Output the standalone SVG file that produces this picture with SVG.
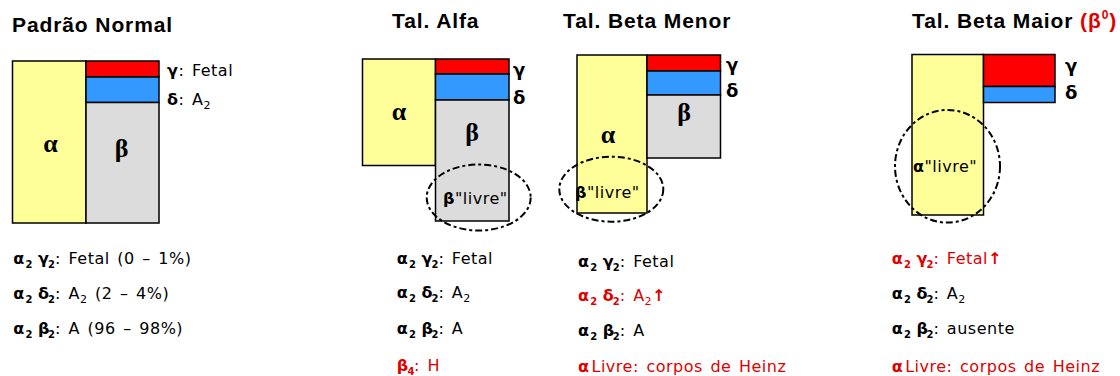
<svg xmlns="http://www.w3.org/2000/svg" width="1120" height="376" viewBox="0 0 1120 376">
<style>
.t{font-family:"Liberation Sans",Arial,sans-serif;font-weight:bold;font-size:21px;fill:#000;letter-spacing:0.9px}
.b{font-family:"DejaVu Sans",Verdana,sans-serif;font-size:16px;fill:#000;letter-spacing:0.5px;word-spacing:2px}
.g{font-family:"DejaVu Sans",sans-serif;font-weight:bold;font-size:16px}
.gl{font-family:"DejaVu Sans",sans-serif;font-weight:bold;font-size:18px}
.s{font-family:"DejaVu Sans",sans-serif;font-weight:bold;font-size:10px}
.sn{font-size:11px}
.big{font-family:"Liberation Serif",serif;font-weight:bold;font-size:26px;fill:#000;text-anchor:middle}
.red{fill:#e00000}
.y{fill:#ffff99;stroke:#000;stroke-width:1.5}
.r{fill:#ff0000;stroke:#000;stroke-width:1.5}
.bl{fill:#3399ff;stroke:#000;stroke-width:1.5}
.gr{fill:#dcdcdc;stroke:#000;stroke-width:1.5}
.el{fill:none;stroke:#000;stroke-width:2;stroke-dasharray:7 3 3 3}
.arr{font-family:"DejaVu Sans",sans-serif;font-weight:bold;font-size:16px}
</style>
<rect width="1120" height="376" fill="#fff"/>

<g id="padrao-normal">
<text class="t" x="12" y="32">Padrão Normal</text>
<rect class="y" x="12.5" y="61" width="73.5" height="162"/>
<rect class="r" x="86" y="61" width="73" height="16"/>
<rect class="bl" x="86" y="77" width="73" height="25.5"/>
<rect class="gr" x="86" y="102.5" width="73" height="120.5"/>
<text class="big" x="50.5" y="152">α</text>
<text class="big" x="121.5" y="157">β</text>
<text class="b" x="167" y="76"><tspan class="g">γ</tspan>: Fetal</text>
<text class="b" x="167" y="105"><tspan class="g">δ</tspan>: A<tspan class="sn" dy="4">2</tspan></text>
</g>

<g id="padrao-normal-legend">
<text class="b" y="264"><tspan class="g" x="13.3">α</tspan><tspan class="s" x="25.5" y="268">2</tspan><tspan class="g" x="38" y="264">γ</tspan><tspan class="s" x="48" y="268">2</tspan><tspan x="55" y="264">: Fetal (0 – 1%)</tspan></text>
<text class="b" y="299"><tspan class="g" x="13.3">α</tspan><tspan class="s" x="25.5" y="303">2</tspan><tspan class="g" x="38" y="299">δ</tspan><tspan class="s" x="48" y="303">2</tspan><tspan x="55" y="299">: A</tspan><tspan class="sn" dy="4">2</tspan><tspan dy="-4"> (2 – 4%)</tspan></text>
<text class="b" y="334"><tspan class="g" x="13.3">α</tspan><tspan class="s" x="25.5" y="338">2</tspan><tspan class="g" x="38" y="334">β</tspan><tspan class="s" x="48" y="338">2</tspan><tspan x="55" y="334">: A (96 – 98%)</tspan></text>
</g>

<g id="tal-alfa">
<text class="t" x="392" y="28">Tal. Alfa</text>
<rect class="y" x="362.5" y="59" width="73" height="106.5"/>
<rect class="r" x="435.5" y="59" width="73.5" height="15"/>
<rect class="bl" x="435.5" y="74" width="73.5" height="26"/>
<rect class="gr" x="435.5" y="100" width="73.5" height="121"/>
<text class="big" x="399" y="120">α</text>
<text class="big" x="472" y="141">β</text>
<text class="gl" x="513" y="76">γ</text>
<text class="gl" x="513" y="104">δ</text>
<ellipse class="el" cx="478.7" cy="197.5" rx="52" ry="33"/>
<text class="b" x="443" y="204" letter-spacing="0"><tspan class="g">β</tspan>"livre"</text>
</g>

<g id="tal-alfa-legend">
<text class="b" y="264"><tspan class="g" x="396.7">α</tspan><tspan class="s" x="408.9" y="268">2</tspan><tspan class="g" x="421.4" y="264">γ</tspan><tspan class="s" x="431.4" y="268">2</tspan><tspan x="438.4" y="264">: Fetal</tspan></text>
<text class="b" y="298"><tspan class="g" x="396.7">α</tspan><tspan class="s" x="408.9" y="302">2</tspan><tspan class="g" x="421.4" y="298">δ</tspan><tspan class="s" x="431.4" y="302">2</tspan><tspan x="438.4" y="298">: A</tspan><tspan class="sn" dy="4">2</tspan></text>
<text class="b" y="334"><tspan class="g" x="396.7">α</tspan><tspan class="s" x="408.9" y="338">2</tspan><tspan class="g" x="421.4" y="334">β</tspan><tspan class="s" x="431.4" y="338">2</tspan><tspan x="438.4" y="334">: A</tspan></text>
<text class="b red" y="371"><tspan class="g" x="396.7">β</tspan><tspan class="s" x="407.5" y="375">4</tspan><tspan x="414" y="371">: H</tspan></text>
</g>

<g id="tal-beta-menor">
<text class="t" x="563" y="28">Tal. Beta Menor</text>
<rect class="y" x="577" y="55" width="70" height="158"/>
<rect class="r" x="647" y="55" width="73.5" height="16"/>
<rect class="bl" x="647" y="71" width="73.5" height="24"/>
<rect class="gr" x="647" y="95" width="73.5" height="63"/>
<text class="big" x="608" y="143">α</text>
<text class="big" x="684" y="121">β</text>
<text class="gl" x="726" y="71">γ</text>
<text class="gl" x="726" y="97">δ</text>
<ellipse class="el" cx="611.3" cy="189.2" rx="52" ry="32.5"/>
<text class="b" x="575" y="198" letter-spacing="0.5"><tspan class="g">β</tspan>"livre"</text>
</g>

<g id="tal-beta-menor-legend">
<text class="b" y="267"><tspan class="g" x="578">α</tspan><tspan class="s" x="590.2" y="271">2</tspan><tspan class="g" x="602.7" y="267">γ</tspan><tspan class="s" x="612.7" y="271">2</tspan><tspan x="619.7" y="267">: Fetal</tspan></text>
<text class="b red" y="301"><tspan class="g" x="578">α</tspan><tspan class="s" x="590.2" y="305">2</tspan><tspan class="g" x="602.7" y="301">δ</tspan><tspan class="s" x="612.7" y="305">2</tspan><tspan x="619.7" y="301">: A</tspan><tspan class="sn" dy="4">2</tspan><tspan class="arr" dy="-4">↑</tspan></text>
<text class="b" y="336"><tspan class="g" x="578">α</tspan><tspan class="s" x="590.2" y="340">2</tspan><tspan class="g" x="602.7" y="336">β</tspan><tspan class="s" x="612.7" y="340">2</tspan><tspan x="619.7" y="336">: A</tspan></text>
<text class="b red" y="372"><tspan class="g" x="578">α</tspan><tspan x="591.5" y="372">Livre: corpos de Heinz</tspan></text>
</g>

<g id="tal-beta-maior">
<text class="t" x="912" y="27.5">Tal. Beta Maior <tspan class="red">(β</tspan><tspan class="red" font-size="12" dy="-9">0</tspan><tspan class="red" dy="9">)</tspan></text>
<rect class="y" x="912" y="54.5" width="71.5" height="160.5"/>
<rect class="r" x="983.5" y="54.5" width="71.5" height="32"/>
<rect class="bl" x="983.5" y="86.5" width="71.5" height="16"/>
<text class="gl" x="1065" y="72">γ</text>
<text class="gl" x="1065" y="99">δ</text>
<ellipse class="el" cx="947.5" cy="166.3" rx="52.5" ry="56.3"/>
<text class="b" x="913" y="172" letter-spacing="0.5"><tspan class="g">α</tspan>"livre"</text>
</g>

<g id="tal-beta-maior-legend">
<text class="b red" y="264"><tspan class="g" x="891.7">α</tspan><tspan class="s" x="903.9" y="268">2</tspan><tspan class="g" x="916.4" y="264">γ</tspan><tspan class="s" x="926.4" y="268">2</tspan><tspan x="933.4" y="264">: Fetal</tspan><tspan class="arr">↑</tspan></text>
<text class="b" y="299"><tspan class="g" x="891.7">α</tspan><tspan class="s" x="903.9" y="303">2</tspan><tspan class="g" x="916.4" y="299">δ</tspan><tspan class="s" x="926.4" y="303">2</tspan><tspan x="933.4" y="299">: A</tspan><tspan class="sn" dy="4">2</tspan></text>
<text class="b" y="334"><tspan class="g" x="891.7">α</tspan><tspan class="s" x="903.9" y="338">2</tspan><tspan class="g" x="916.4" y="334">β</tspan><tspan class="s" x="926.4" y="338">2</tspan><tspan x="933.4" y="334">: ausente</tspan></text>
<text class="b red" y="372"><tspan class="g" x="891.7">α</tspan><tspan x="905.2" y="372">Livre: corpos de Heinz</tspan></text>
</g>
</svg>
